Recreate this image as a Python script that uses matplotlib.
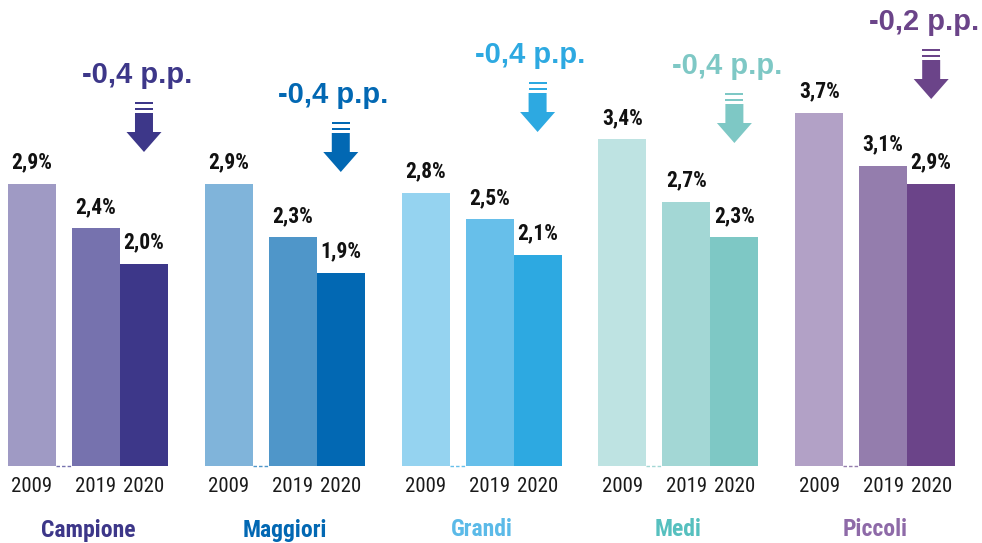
import matplotlib
matplotlib.use("Agg")
import matplotlib.pyplot as plt
from matplotlib import font_manager
from matplotlib.patches import Polygon, Rectangle
import numpy as np

# ---------------- data ----------------
groups = ["Campione", "Maggiori", "Grandi", "Medi", "Piccoli"]
years = ["2009", "2019", "2020"]
v2009 = [2.9, 2.9, 2.8, 3.4, 3.7]
v2019 = [2.4, 2.3, 2.5, 2.7, 3.1]
v2020 = [2.0, 1.9, 2.1, 2.3, 2.9]
deltas = ["-0,4 p.p.", "-0,4 p.p.", "-0,4 p.p.", "-0,4 p.p.", "-0,2 p.p."]

# ---------------- style ----------------
bar_colors = [
    ["#9F9AC4", "#7672AE", "#3D3789"],
    ["#80B4DA", "#4F96C9", "#0268B3"],
    ["#95D3F0", "#67BFEA", "#2DA9E1"],
    ["#BEE3E2", "#A3D7D5", "#7EC8C5"],
    ["#B2A1C6", "#947DAD", "#6B4489"],
]
label_colors = ["#3D3789", "#0268B3", "#5BBAE8", "#56C0BF", "#8E6AA8"]
arrow_colors = ["#3D3789", "#0268B3", "#2DA9E1", "#7EC8C5", "#6B4489"]
arrow_top_px = [103, 123, 83, 94, 50]   # top of the double line, in pixels from the top

def pick(names):
    for n in names:
        try:
            font_manager.findfont(n, fallback_to_default=False)
            return n
        except Exception:
            pass
    return "DejaVu Sans"

NARROW = pick(["Liberation Sans Narrow", "Roboto Condensed", "DejaVu Sans"])
WIDE = pick(["Liberation Sans", "Arial", "DejaVu Sans"])

W, H = 982, 543
fig = plt.figure(figsize=(W / 100, H / 100), dpi=100)
ax = fig.add_axes([0, 0, 1, 1])
ax.axis("off")

PX_X = 48.0      # pixels per x unit (bar width)
PX_Y = 89.0      # pixels per value unit
BASE = -0.27     # value at which bars start
BASE_PX = 466    # pixel row (from top) of bar base
x_left = -0.5 - 8 / PX_X
ax.set_xlim(x_left, x_left + W / PX_X)
y_bot = BASE - (H - BASE_PX) / PX_Y
ax.set_ylim(y_bot, y_bot + H / PX_Y)

def py(px):  # pixel row from top -> data y
    return y_bot + (H - px) / PX_Y

GROUP_STEP = 4.1
offsets = [0.0, 1.333, 2.333]
vals = [v2009, v2019, v2020]

for g, name in enumerate(groups):
    x0 = g * GROUP_STEP
    xs = [x0 + o for o in offsets]
    for k in range(3):
        v = vals[k][g]
        ax.bar(xs[k], v - BASE, bottom=BASE, width=1.0, color=bar_colors[g][k],
               linewidth=0)
        ax.annotate(f"{v:.1f}".replace(".", ",") + "%", (xs[k], v),
                    xytext=(0, 7.5), textcoords="offset points",
                    ha="center", va="bottom", fontsize=15.5, fontweight="bold",
                    family=NARROW, color="#111111")
        ax.text(xs[k], py(486), years[k], ha="center", va="center",
                fontsize=15, family=NARROW, color="#1a1a1a")
    # dashed connector at base
    ax.plot([xs[0] + 0.5, xs[1] - 0.5], [BASE, BASE], ls=(0, (2.5, 1.5)),
            lw=1.0, color=bar_colors[g][1])
    # group label
    ax.text((xs[0] + xs[2]) / 2, py(530), name, ha="center", va="center",
            fontsize=17, fontweight="bold", family=NARROW, color=label_colors[g])

    # arrow (drawn in pixel-scaled units around 2020 bar centre)
    cx = xs[2]
    c = arrow_colors[g]
    t = arrow_top_px[g]
    sw = 18 / PX_X / 2
    hw = 35 / PX_X / 2
    for ly in (t, t + 6):
        ax.add_patch(Rectangle((cx - sw, py(ly + 1.2)), 2 * sw, 2.4 / PX_Y,
                               color=c, lw=0))
    poly = [(cx - sw, py(t + 10)), (cx + sw, py(t + 10)), (cx + sw, py(t + 29)),
            (cx + hw, py(t + 29)), (cx, py(t + 49)), (cx - hw, py(t + 29)),
            (cx - sw, py(t + 29))]
    ax.add_patch(Polygon(poly, closed=True, color=c, lw=0))
    ax.text(cx - 0.15, py(t - 28), deltas[g], ha="center", va="center",
            fontsize=21, fontweight="bold", family=WIDE, color=c)

fig.savefig("out.png", dpi=100)
